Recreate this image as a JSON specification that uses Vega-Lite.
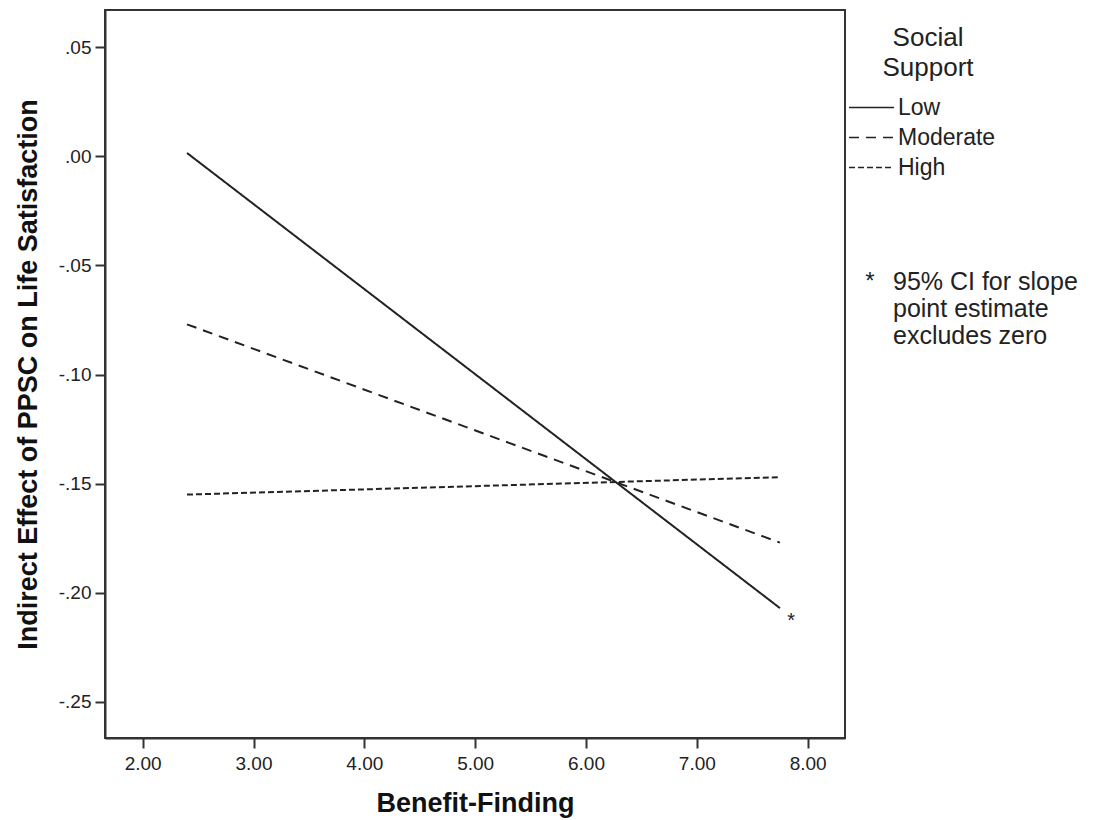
{
  "$schema": "https://vega.github.io/schema/vega-lite/v6.json",
  "width": 740,
  "height": 728,
  "autosize": {"type": "none"},
  "padding": {"left": 105, "top": 10, "right": 249, "bottom": 82},
  "background": "white",
  "config": {
    "view": {"stroke": "#333", "strokeWidth": 2},
    "font": "Liberation Sans",
    "axis": {"grid": false, "domainColor": "#333", "domainWidth": 2, "tickColor": "#333", "tickWidth": 2, "labelColor": "#222", "titleColor": "#111", "labelFont": "Liberation Sans", "titleFont": "Liberation Sans"}
  },
  "datasets": {
    "lines": [
      {"bf": 2.4, "effect": 0.0015, "support": "Low"},
      {"bf": 7.75, "effect": -0.207, "support": "Low"},
      {"bf": 2.4, "effect": -0.077, "support": "Moderate"},
      {"bf": 7.75, "effect": -0.177, "support": "Moderate"},
      {"bf": 2.4, "effect": -0.155, "support": "High"},
      {"bf": 7.75, "effect": -0.147, "support": "High"}
    ],
    "star": [{"bf": 7.85, "effect": -0.2116, "label": "*"}],
    "note": [{"sx": 8.52, "tx": 8.77, "effect": -0.052, "star": "*", "text": "95% CI for slope\npoint estimate\nexcludes zero"}]
  },
  "layer": [
    {
      "data": {"name": "lines"},
      "mark": {"type": "line", "stroke": "#222", "strokeWidth": 2},
      "encoding": {
        "x": {
          "field": "bf", "type": "quantitative",
          "scale": {"domain": [1.66, 8.337], "nice": false, "zero": false},
          "axis": {
            "title": "Benefit-Finding", "titleFontSize": 27, "titleFontWeight": "bold", "titlePadding": 17,
            "values": [2, 3, 4, 5, 6, 7, 8], "format": ".2f", "labelFontSize": 19, "tickSize": 10, "labelPadding": 6
          }
        },
        "y": {
          "field": "effect", "type": "quantitative",
          "scale": {"domain": [-0.2665, 0.067], "nice": false, "zero": false},
          "axis": {
            "title": "Indirect Effect of PPSC on Life Satisfaction", "titleFontSize": 27, "titleFontWeight": "bold", "titlePadding": 16,
            "values": [0.05, 0, -0.05, -0.1, -0.15, -0.2, -0.25],
            "labelExpr": "replace(replace(format(datum.value, '.2f'), '\u2212', '-'), '0.', '.')",
            "labelFontSize": 19, "tickSize": 10, "labelPadding": 4
          }
        },
        "strokeDash": {
          "field": "support", "type": "nominal",
          "scale": {"domain": ["Low", "Moderate", "High"], "range": [[1, 0], [10, 7], [6, 3]]},
          "legend": {
            "orient": "none", "legendX": 755, "legendY": 15, "padding": 0,
            "title": ["Social", "Support"], "titleFontSize": 26, "titleFontWeight": "normal", "titleAlign": "center", "titleAnchor": "middle", "titleLineHeight": 30, "titleColor": "#222", "titlePadding": 15,
            "labelFontSize": 23, "labelColor": "#222", "labelOffset": 15,
            "symbolType": "M-3,0H3", "symbolSize": 225, "symbolStrokeWidth": 1.5, "symbolStrokeColor": "#222", "symbolOffset": 0,
            "rowPadding": 6
          }
        }
      }
    },
    {
      "data": {"name": "star"},
      "mark": {"type": "text", "fontSize": 20, "baseline": "middle", "dy": 3, "color": "#222"},
      "encoding": {
        "x": {"field": "bf", "type": "quantitative"},
        "y": {"field": "effect", "type": "quantitative"},
        "text": {"field": "label"}
      }
    },
    {
      "data": {"name": "note"},
      "mark": {"type": "text", "fontSize": 24, "baseline": "top", "align": "left", "color": "#222"},
      "encoding": {
        "x": {"field": "sx", "type": "quantitative"},
        "y": {"field": "effect", "type": "quantitative"},
        "text": {"field": "star"}
      }
    },
    {
      "data": {"name": "note"},
      "mark": {"type": "text", "fontSize": 25, "baseline": "top", "align": "left", "lineBreak": "\n", "lineHeight": 27, "color": "#222"},
      "encoding": {
        "x": {"field": "tx", "type": "quantitative"},
        "y": {"field": "effect", "type": "quantitative"},
        "text": {"field": "text"}
      }
    }
  ]
}
